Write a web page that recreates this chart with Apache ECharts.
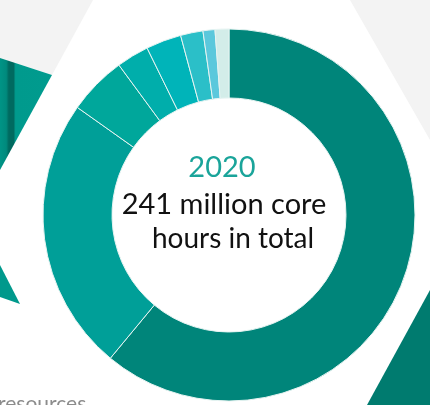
<!DOCTYPE html>
<html>
<head>
<meta charset="utf-8">
<script src="https://cdn.jsdelivr.net/npm/echarts@6/dist/echarts.min.js"></script>
<style>
html,body{margin:0;padding:0;background:#fff;}
#c{width:430px;height:405px;}
</style>
</head>
<body>
<div id="c"></div>
<script>
// Data (million core hours, 2020)
var categories = ['Resource 1','Resource 2','Resource 3','Resource 4','Resource 5','Resource 6','Resource 7','Resource 8'];
var values = [147.1, 57.4, 12.3, 6.8, 7.4, 4.7, 2.5, 2.9];
var sliceColors = ['#00857a','#009f98','#00a79b','#00aeab','#00b4b9','#2bbfc8','#5bc8dc','#d3ede9'];
var yearLabel = '2020';
var totalLines = ['241 million core', 'hours in total'];
var footText = 'resources';

var chart = echarts.init(document.getElementById('c'), null, {renderer:'canvas'});

var pieData = categories.map(function(n,i){
  return {name:n, value:values[i], itemStyle:{color:sliceColors[i]}};
});

var tealGrad = {type:'linear', x:0, y:0, x2:1, y2:0, colorStops:[
  {offset:0, color:'#009486'},{offset:0.12, color:'#008a7d'},{offset:0.17, color:'#006a60'},
  {offset:0.26, color:'#006a60'},{offset:0.3, color:'#009a8d'},{offset:1, color:'#009b8e'}]};

chart.setOption({
  animation:false,
  backgroundColor:'#ffffff',
  graphic:[
    {type:'polygon', z:0, shape:{points:[[0,0],[93,0],[52,75],[0,58]]}, style:{fill:'#f3f3f3'}},
    {type:'polygon', z:0, shape:{points:[[350,0],[430,0],[430,140]]}, style:{fill:'#f3f3f3'}},
    {type:'polygon', z:0, shape:{points:[[0,58],[52,75],[0,170]]}, style:{fill:tealGrad}},
    {type:'polygon', z:0, shape:{points:[[0,265],[20,304],[0,297]]}, style:{fill:'#00998c'}},
    {type:'polygon', z:0, shape:{points:[[430,290],[367,405],[430,405]]}, style:{fill:'#007b6f'}},
    {type:'text', z:10, style:{text:yearLabel, x:222, y:182, textAlign:'center', textVerticalAlign:'bottom', fill:'#1aa49a', font:'29px Lato'}},
    {type:'text', z:10, style:{text:totalLines[0], x:224, y:219, textAlign:'center', textVerticalAlign:'bottom', fill:'#111111', font:'29px Lato', letterSpacing:0.5}},
    {type:'text', z:10, style:{text:totalLines[1], x:233, y:253, textAlign:'center', textVerticalAlign:'bottom', fill:'#111111', font:'28px Lato'}},
    {type:'text', z:10, style:{text:footText, x:-2, y:394, textAlign:'left', textVerticalAlign:'top', fill:'#8c8c8c', font:'21px Lato'}}
  ],
  series:[{
    type:'pie',
    center:[229,215],
    radius:[117,186],
    startAngle:90,
    clockwise:true,
    label:{show:false},
    labelLine:{show:false},
    silent:true,
    itemStyle:{borderColor:'#e6f4f2', borderWidth:1},
    data:pieData
  }]
});
</script>
</body>
</html>
